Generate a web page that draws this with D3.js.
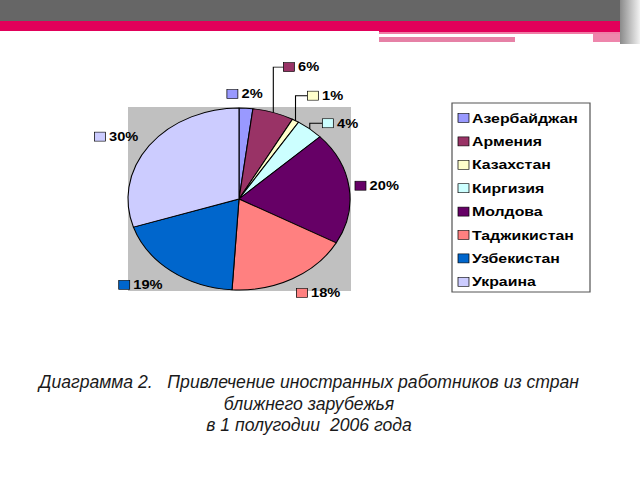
<!DOCTYPE html>
<html><head><meta charset="utf-8">
<script src="https://cdn.jsdelivr.net/npm/d3@7"></script>
<style>html,body{margin:0;padding:0;background:#fff;}svg{display:block;}</style>
</head><body>
<svg id="c" width="640" height="480"></svg>
<script>
const categories = ["Азербайджан","Армения","Казахстан","Киргизия","Молдова","Таджикистан","Узбекистан","Украина"];
const values = [2, 6, 1, 4, 20, 18, 19, 30];
const valueLabels = ["2%","6%","1%","4%","20%","18%","19%","30%"];
const colors = ["#9999FF","#993366","#FFFFCC","#CCFFFF","#660066","#FF8080","#0066CC","#CCCCFF"];
const captionLines = ["Диаграмма 2.   Привлечение иностранных работников из стран","ближнего зарубежья","в 1 полугодии  2006 года"];

const svg = d3.select("#c");
const W = 640;

// slide decoration
svg.append("rect").attr("x",0).attr("y",0).attr("width",W).attr("height",21).attr("fill","#666666");
svg.append("rect").attr("x",0).attr("y",21).attr("width",W).attr("height",10).attr("fill","#E2005A");
svg.append("rect").attr("x",379).attr("y",21).attr("width",241).attr("height",11).attr("fill","#E2005A");
svg.append("rect").attr("x",379).attr("y",32).attr("width",241).attr("height",2).attr("fill","#F07CA6");
svg.append("rect").attr("x",379).attr("y",34).attr("width",214).attr("height",3).attr("fill","#FFFFFF");
svg.append("rect").attr("x",379).attr("y",37).attr("width",136).attr("height",5).attr("fill","#E681A6");
svg.append("rect").attr("x",593).attr("y",34).attr("width",27).attr("height",8).attr("fill","#EE86AC");
const grad = svg.append("defs").append("linearGradient").attr("id","edge").attr("x1",0).attr("x2",1);
grad.append("stop").attr("offset","0").attr("stop-color","#8a8a8a");
grad.append("stop").attr("offset","1").attr("stop-color","#f2f2f2");
svg.append("rect").attr("x",620).attr("y",0).attr("width",20).attr("height",44).attr("fill","url(#edge)");

// chart, horizontally stretched like the original
const sx = 1.22;
const g = svg.append("g").attr("transform",`scale(${sx},1)`);
const X = v => v / sx;

g.append("rect").attr("x",X(128)).attr("y",107).attr("width",X(351)-X(128)).attr("height",184).attr("fill","#C0C0C0");

const cx = X(239), cy = 199, r = 91;
const pie = d3.pie().sort(null).value(d => d)(values);
const arc = d3.arc().innerRadius(0).outerRadius(r);
const pg = g.append("g").attr("transform",`translate(${cx},${cy})`);
pg.selectAll("path").data(pie).join("path")
  .attr("d",arc).attr("fill",(d,i)=>colors[i])
  .attr("stroke","#000").attr("stroke-width",0.9).attr("stroke-linejoin","round");

// data labels (manually positioned like the original, relative offsets in screen px)
const nudge = [[-3,1],[19,-31],[15,-12],[12,6],[-5,0],[10,1],[-10,2],[-6,0]];
const leader = new Set([1,2,3]);
const lg = g.append("g");
pie.forEach((d,i) => {
  const a = (d.startAngle + d.endAngle)/2;
  const s = Math.sin(a), c = Math.cos(a);
  const t = lg.append("text").text(valueLabels[i])
    .attr("font-family","Arial, 'Liberation Sans', sans-serif").attr("font-weight","bold")
    .attr("font-size",12).attr("fill","#000");
  const tw = t.node().getComputedTextLength();
  const m = 9, gap = 3, h = 12;
  const bw = m + gap + tw;
  const px = cx + r*1.1*s, py = cy - r*1.1*c;
  const bx = px + (bw/2)*s + X(nudge[i][0]);
  const by = py - (h/2)*c + nudge[i][1];
  const left = bx - bw/2;
  if (leader.has(i)) {
    const ex = cx + r*s, ey = cy - r*c;
    lg.append("polyline").attr("points",`${ex},${ey} ${ex},${by} ${left},${by}`)
      .attr("fill","none").attr("stroke","#000").attr("stroke-width",0.9);
  }
  lg.append("rect").attr("x",left).attr("y",by-m/2).attr("width",m).attr("height",m)
    .attr("fill",colors[i]).attr("stroke","#000").attr("stroke-width",0.6);
  t.attr("x",left+m+gap).attr("y",by+4.3);
});

// legend
const lx0 = X(452), lx1 = X(590);
g.append("rect").attr("x",lx0).attr("y",103).attr("width",lx1-lx0).attr("height",189)
  .attr("fill","#fff").attr("stroke","#555").attr("stroke-width",1);
const leg = g.append("g");
categories.forEach((name,i) => {
  const y = 118 + i*23.4;
  leg.append("rect").attr("x",X(458)).attr("y",y-4.5).attr("width",9).attr("height",9)
    .attr("fill",colors[i]).attr("stroke","#000").attr("stroke-width",0.6);
  leg.append("text").attr("x",X(472)).attr("y",y+4.7).text(name)
    .attr("font-family","Arial, 'Liberation Sans', sans-serif").attr("font-weight","bold")
    .attr("font-size",13).attr("fill","#000");
});

// caption
const cap = svg.append("g");
const capY = [388, 409.5, 431];
captionLines.forEach((line,i) => {
  cap.append("text").attr("x",309).attr("y",capY[i]).attr("text-anchor","middle")
    .attr("font-family","Arial, 'Liberation Sans', sans-serif").attr("font-style","italic")
    .attr("font-size",17.6).attr("fill","#1a1a1a").attr("xml:space","preserve").text(line);
});
</script>
</body></html>
